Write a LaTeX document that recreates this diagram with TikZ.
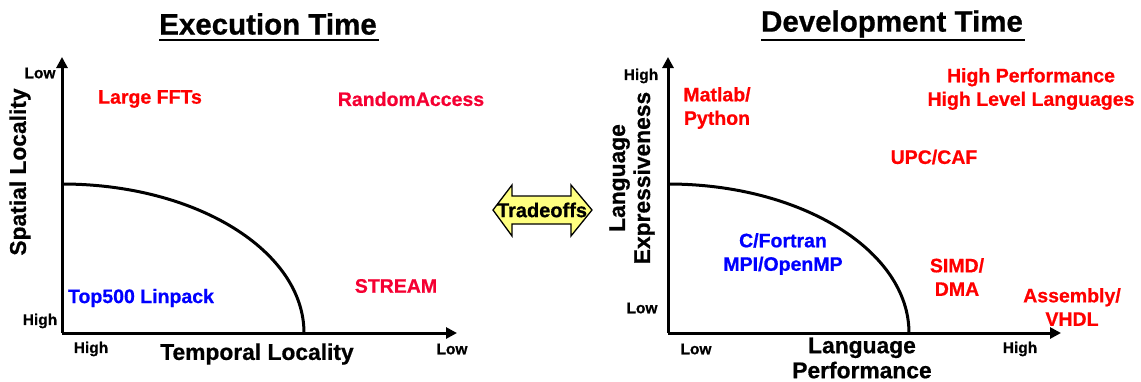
\documentclass[tikz,border=0pt]{standalone}
\usepackage{fontspec}
\setmainfont{Liberation Sans}[BoldFeatures={FakeBold=0.7}]
\usetikzlibrary{arrows.meta}
\definecolor{lblred}{RGB}{255,0,0}
\definecolor{crimson}{RGB}{245,0,50}
\definecolor{lblblue}{RGB}{0,0,255}
\definecolor{arrowyellow}{RGB}{255,255,128}
\tikzset{
  axis/.style={line width=3pt, -{Triangle[length=11pt,width=11pt]}},
  front/.style={line width=3pt},
  title/.style={font=\fontsize{29.5}{34}\selectfont\bfseries, inner sep=0pt},
  axislabel/.style={font=\fontsize{22.8}{26}\selectfont\bfseries, inner sep=0pt, align=center},
  ticklabel/.style={font=\fontsize{15.5}{18}\selectfont\bfseries, inner sep=0pt},
  item/.style={font=\fontsize{19.5}{23.5}\selectfont\bfseries, inner sep=0pt, align=center},
}
\begin{document}
\begin{tikzpicture}[x=1pt, y=-1pt]
\useasboundingbox (0,0) rectangle (1141,381);

% ---------- Execution time panel ----------
\node[title] (t1) at (268,24) {Execution Time};
\draw[line width=1.8pt] (159,40) -- (379,40);

\coordinate (o1) at (62,333);
\coordinate (y1) at (62,57);
\coordinate (x1) at (457,333);
\draw[axis] (o1) -- (y1);
\draw[axis] (o1) -- (x1);
\draw[front] (62,184) arc[start angle=-90, end angle=0, x radius=242, y radius=149];

\node[ticklabel] (lowy1) at (40,73) {Low};
\node[ticklabel] (highy1) at (40,321) {High};
\node[ticklabel] (highx1) at (91,349) {High};
\node[ticklabel] (lowx1) at (452,349) {Low};
\node[axislabel] (xl1) at (257,354) {Temporal Locality};
\node[axislabel, rotate=90] (yl1) at (20,172) {Spatial Locality};

\node[item, text=lblred] (fft) at (150,99) {Large FFTs};
\node[item, text=crimson] (ra) at (411,99) {RandomAccess};
\node[item, text=crimson] (stream) at (396,286) {STREAM};
\node[item, text=lblblue] (hpl) at (141,298) {Top500 Linpack};

% ---------- Tradeoffs double arrow ----------
\draw[fill=arrowyellow, line width=1.3pt, line join=miter]
  (493,210) -- (512,185) -- (512,196) -- (571,196) -- (571,185) -- (592,210)
  -- (571,236) -- (571,224) -- (512,224) -- (512,236) -- cycle;
\node[font=\fontsize{20}{23}\selectfont\bfseries, inner sep=0pt] (trade) at (542,210) {Tradeoffs};

% ---------- Development time panel ----------
\node[title] (t2) at (892,24) {Development Time};
\draw[line width=1.8pt] (761,40) -- (1025,40);

\coordinate (o2) at (668,333);
\coordinate (y2) at (668,57);
\coordinate (x2) at (1061,333);
\draw[axis] (o2) -- (y2);
\draw[axis] (o2) -- (x2);
\draw[front] (668,184) arc[start angle=-90, end angle=0, x radius=241, y radius=149];

\node[ticklabel] (highy2) at (641,76) {High};
\node[ticklabel] (lowy2) at (642,308) {Low};
\node[ticklabel] (lowx2) at (696,349) {Low};
\node[ticklabel] (highx2) at (1020,349) {High};
\node[axislabel] (xl2) at (862,358) {Language\\[-1pt]Performance};
\node[axislabel, rotate=90] (yl2) at (632,178) {Language\\[-1pt]Expressiveness};

\node[item, text=lblred] (matlab) at (717,108) {Matlab/\\Python};
\node[item, text=lblred] (hphl) at (1031,89) {High Performance\\High Level Languages};
\node[item, text=lblred] (upc) at (934,157) {UPC/CAF};
\node[item, text=lblblue] (cf) at (783,254) {C/Fortran\\MPI/OpenMP};
\node[item, text=lblred] (simd) at (957,277) {SIMD/\\DMA};
\node[item, text=lblred] (asm) at (1072,307) {Assembly/\\VHDL};
\end{tikzpicture}
\end{document}
